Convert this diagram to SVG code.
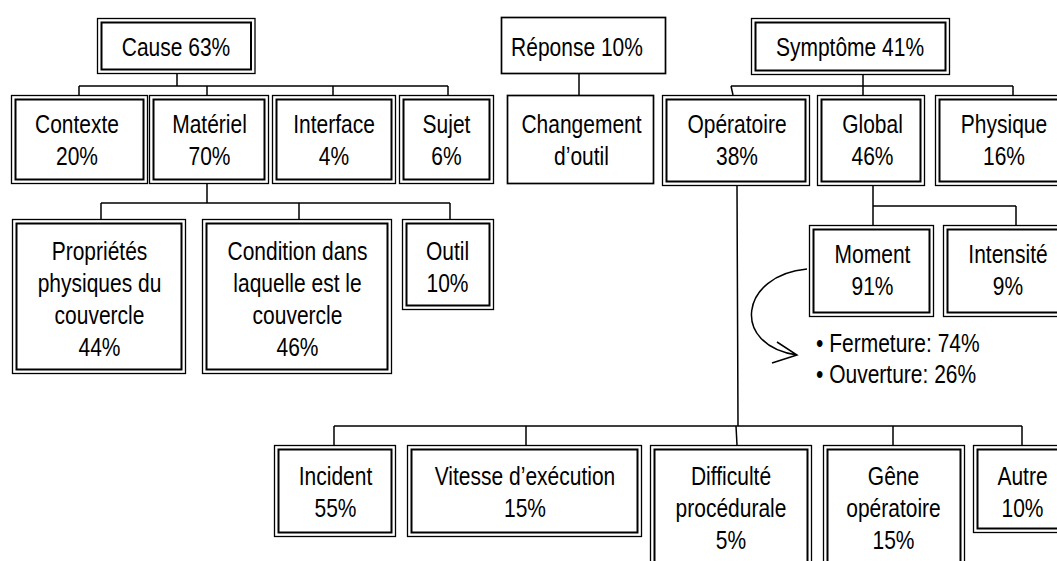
<svg xmlns="http://www.w3.org/2000/svg" width="1057" height="561" viewBox="0 0 1057 561">
<style>
  .o { fill: #fff; stroke: #000; stroke-width: 1.3; }
  .i { fill: none; stroke: #000; stroke-width: 2; }
  .s { fill: #fff; stroke: #000; stroke-width: 1.7; }
  .c { fill: none; stroke: #000; stroke-width: 1.5; }
  text { font-family: "Liberation Sans", Arial, sans-serif; font-size: 25px; fill: #000; text-anchor: middle; }
  text.l { text-anchor: start; }
</style>
<rect width="1057" height="561" fill="#fff"/>
<g id="connectors">
  <path class="c" d="M177 74V86M79 86H448M79 86V95M207 86V95M333 86V95M448 86V95"/>
  <path class="c" d="M579 74V95"/>
  <path class="c" d="M863 75V86M731 86H1013M731 86L733 95M863 86V95M1013 86V95"/>
  <path class="c" d="M207 184V203M101 203H450M101 203V219M299 203V219M450 203V219"/>
  <path class="c" d="M873 186V206H1016M873 206V225M1016 206V225"/>
  <path class="c" d="M737 186L738 426M334 426H1022M334 426V445M526 426V445M736 426L737 445M893 426V445M1022 426V445"/>
  <path class="c" d="M807 269C740 275 730 345 797 355M777 342L797 355L772 363"/>
</g>
<g id="cause">
  <rect class="o" x="97.5" y="18.5" width="157.5" height="55"/>
  <rect class="i" x="101.5" y="22.5" width="149.5" height="47"/>
  <text transform="matrix(0.84 0 0 1 176 0)"><tspan x="0" y="56">Cause 63%</tspan></text>
</g>
<g id="reponse">
  <rect class="s" x="501.5" y="17.5" width="164" height="56"/>
  <text transform="matrix(0.84 0 0 1 577 0)"><tspan x="0" y="56">Réponse 10%</tspan></text>
</g>
<g id="symptome">
  <rect class="o" x="751.5" y="18.5" width="198" height="56"/>
  <rect class="i" x="755.5" y="22.5" width="190" height="48"/>
  <text transform="matrix(0.84 0 0 1 850 0)"><tspan x="0" y="56">Symptôme 41%</tspan></text>
</g>
<g id="contexte">
  <rect class="o" x="11.5" y="95.5" width="136" height="88"/>
  <rect class="i" x="15.5" y="99.5" width="128" height="80"/>
  <text transform="matrix(0.84 0 0 1 77 0)"><tspan x="0" y="133">Contexte</tspan><tspan x="0" y="165.5">20%</tspan></text>
</g>
<g id="materiel">
  <rect class="o" x="149.5" y="95.5" width="119" height="88"/>
  <rect class="i" x="153.5" y="99.5" width="111" height="80"/>
  <text transform="matrix(0.84 0 0 1 209.5 0)"><tspan x="0" y="133">Matériel</tspan><tspan x="0" y="165.5">70%</tspan></text>
</g>
<g id="interface">
  <rect class="o" x="272.5" y="95.5" width="123" height="88"/>
  <rect class="i" x="276.5" y="99.5" width="115" height="80"/>
  <text transform="matrix(0.84 0 0 1 334 0)"><tspan x="0" y="133">Interface</tspan><tspan x="0" y="165.5">4%</tspan></text>
</g>
<g id="sujet">
  <rect class="o" x="399.5" y="95.5" width="94" height="88"/>
  <rect class="i" x="403.5" y="99.5" width="86" height="80"/>
  <text transform="matrix(0.84 0 0 1 446.5 0)"><tspan x="0" y="133">Sujet</tspan><tspan x="0" y="165.5">6%</tspan></text>
</g>
<g id="changement">
  <rect class="s" x="507.5" y="95.5" width="146" height="88"/>
  <text transform="matrix(0.84 0 0 1 581.5 0)"><tspan x="0" y="133">Changement</tspan><tspan x="0" y="165.5">d’outil</tspan></text>
</g>
<g id="operatoire">
  <rect class="o" x="662.5" y="95.5" width="147" height="90"/>
  <rect class="i" x="666.5" y="99.5" width="139" height="82"/>
  <text transform="matrix(0.84 0 0 1 737 0)"><tspan x="0" y="133">Opératoire</tspan><tspan x="0" y="165.5">38%</tspan></text>
</g>
<g id="global">
  <rect class="o" x="817.5" y="95.5" width="107" height="90"/>
  <rect class="i" x="821.5" y="99.5" width="99" height="82"/>
  <text transform="matrix(0.84 0 0 1 872.5 0)"><tspan x="0" y="133">Global</tspan><tspan x="0" y="165.5">46%</tspan></text>
</g>
<g id="physique">
  <rect class="o" x="935.5" y="95.5" width="135" height="90"/>
  <rect class="i" x="939.5" y="99.5" width="127" height="82"/>
  <text transform="matrix(0.84 0 0 1 1004 0)"><tspan x="0" y="133">Physique</tspan><tspan x="0" y="165.5">16%</tspan></text>
</g>
<g id="proprietes">
  <rect class="o" x="12.5" y="219.5" width="173" height="154"/>
  <rect class="i" x="16.5" y="223.5" width="165" height="146"/>
  <text transform="matrix(0.84 0 0 1 99.5 0)"><tspan x="0" y="260">Propriétés</tspan><tspan x="0" y="292">physiques du</tspan><tspan x="0" y="324">couvercle</tspan><tspan x="0" y="356">44%</tspan></text>
</g>
<g id="condition">
  <rect class="o" x="202.5" y="219.5" width="189" height="154"/>
  <rect class="i" x="206.5" y="223.5" width="181" height="146"/>
  <text transform="matrix(0.84 0 0 1 297.5 0)"><tspan x="0" y="260">Condition dans</tspan><tspan x="0" y="292">laquelle est le</tspan><tspan x="0" y="324">couvercle</tspan><tspan x="0" y="356">46%</tspan></text>
</g>
<g id="outil">
  <rect class="o" x="402.5" y="219.5" width="91" height="90"/>
  <rect class="i" x="406.5" y="223.5" width="83" height="82"/>
  <text transform="matrix(0.84 0 0 1 447.5 0)"><tspan x="0" y="260">Outil</tspan><tspan x="0" y="292">10%</tspan></text>
</g>
<g id="moment">
  <rect class="o" x="809.5" y="225.5" width="124" height="91"/>
  <rect class="i" x="813.5" y="229.5" width="116" height="83"/>
  <text transform="matrix(0.84 0 0 1 872.5 0)"><tspan x="0" y="263.5">Moment</tspan><tspan x="0" y="295.5">91%</tspan></text>
</g>
<g id="intensite">
  <rect class="o" x="943.5" y="225.5" width="127" height="91"/>
  <rect class="i" x="947.5" y="229.5" width="119" height="83"/>
  <text transform="matrix(0.84 0 0 1 1008 0)"><tspan x="0" y="263.5">Intensité</tspan><tspan x="0" y="295.5">9%</tspan></text>
</g>
<g id="moment-details">
  <text class="l" transform="matrix(0.84 0 0 1 816 0)"><tspan x="0" y="352">• Fermeture: 74%</tspan><tspan x="0" y="383.5">• Ouverture: 26%</tspan></text>
</g>
<g id="incident">
  <rect class="o" x="274.5" y="445.5" width="121" height="91"/>
  <rect class="i" x="278.5" y="449.5" width="113" height="83"/>
  <text transform="matrix(0.84 0 0 1 335.5 0)"><tspan x="0" y="485">Incident</tspan><tspan x="0" y="517">55%</tspan></text>
</g>
<g id="vitesse">
  <rect class="o" x="407.5" y="445.5" width="234" height="91"/>
  <rect class="i" x="411.5" y="449.5" width="226" height="83"/>
  <text transform="matrix(0.84 0 0 1 525 0)"><tspan x="0" y="485">Vitesse d’exécution</tspan><tspan x="0" y="517">15%</tspan></text>
</g>
<g id="difficulte">
  <rect class="o" x="650.5" y="445.5" width="161" height="140"/>
  <rect class="i" x="654.5" y="449.5" width="153" height="132"/>
  <text transform="matrix(0.84 0 0 1 731 0)"><tspan x="0" y="485">Difficulté</tspan><tspan x="0" y="517">procédurale</tspan><tspan x="0" y="549">5%</tspan></text>
</g>
<g id="gene">
  <rect class="o" x="823.5" y="445.5" width="141" height="140"/>
  <rect class="i" x="827.5" y="449.5" width="133" height="132"/>
  <text transform="matrix(0.84 0 0 1 893.5 0)"><tspan x="0" y="485">Gêne</tspan><tspan x="0" y="517">opératoire</tspan><tspan x="0" y="549">15%</tspan></text>
</g>
<g id="autre">
  <rect class="o" x="973.5" y="445.5" width="100" height="87"/>
  <rect class="i" x="977.5" y="449.5" width="92" height="79"/>
  <text transform="matrix(0.84 0 0 1 1022.5 0)"><tspan x="0" y="485">Autre</tspan><tspan x="0" y="517">10%</tspan></text>
</g>
</svg>
